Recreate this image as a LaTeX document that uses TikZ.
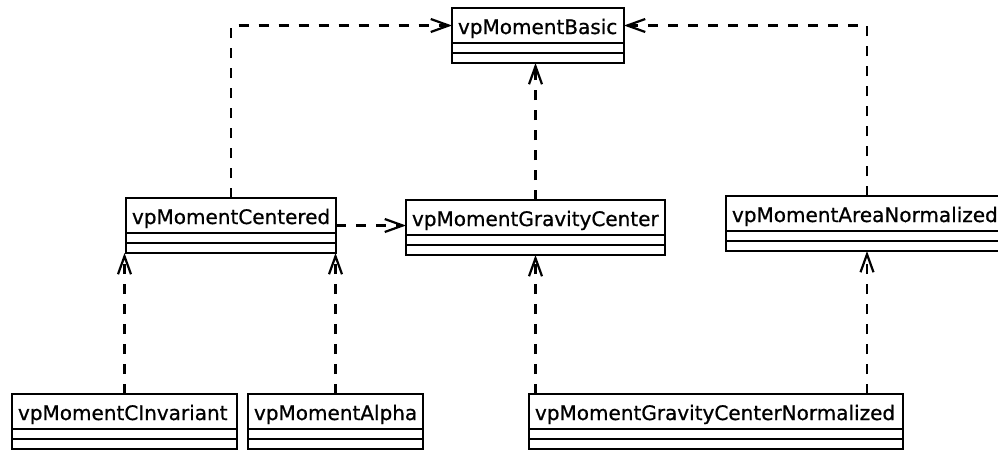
\documentclass[tikz,border=0pt]{standalone}
\usepackage{fontspec}
\newfontfamily\clsfont{DejaVu Sans}[FakeBold=0.8]
\usetikzlibrary{arrows.meta,calc}
\tikzset{
  clsname/.style={draw, line width=2.2pt, anchor=north west, outer sep=0pt, inner xsep=6pt, inner ysep=0pt,
    minimum height=35pt, text height=19pt, text depth=2pt, align=left,
    font=\clsfont\fontsize{20}{22}\selectfont},
  clscomp/.style={draw, line width=2.2pt, anchor=north, outer sep=0pt, inner sep=0pt, minimum height=10pt},
  dep/.style={line width=2.2pt, dash pattern=on 10pt off 10pt,
    -{Straight Barb[length=18pt, width=13pt, line width=2.2pt]}}
}
\newcommand{\umlclass}[5]{%
  \pgfmathsetmacro{\umltw}{#4-12}%
  \node[clsname, minimum width=#4pt, text width=\umltw pt] (#1) at (#2,#3) {#5};
  \node[clscomp, minimum width=#4pt] (#1-a) at (#1.south) {};
  \node[clscomp, minimum width=#4pt] (#1-o) at (#1-a.south) {};
}
\begin{document}
\begin{tikzpicture}[x=1pt, y=-1pt]
  \useasboundingbox (0,0) rectangle (998,451);
  \clip (0,0) rectangle (998,451);
  \umlclass{basic}{452}{8}{172}{vpMomentBasic}
  \umlclass{centered}{126}{198}{210}{vpMomentCentered}
  \umlclass{gc}{406}{200}{259}{vpMomentGravityCenter}
  \umlclass{area}{726}{196}{282}{vpMomentAreaNormalized}
  \umlclass{cinv}{12}{394}{225}{vpMomentCInvariant}
  \umlclass{alpha}{248}{394}{175}{vpMomentAlpha}
  \umlclass{gcn}{529}{394}{374}{vpMomentGravityCenterNormalized}

  \draw[dep] (centered.north) |- (basic.west);
  \draw[dep] (area.north) |- (basic.east);
  \draw[dep] (gc.north) -- (gc.north |- basic-o.south);
  \coordinate (c1) at ($(centered.north east)!.5!(centered-o.south east)$);
  \draw[dep] (c1) -- (c1 -| gc.west);
  \draw[dep] (cinv.north) -- (cinv.north |- centered-o.south);
  \draw[dep] (alpha.north) -- (alpha.north |- centered-o.south);
  \draw[dep] (gcn.north -| gc.north) -- (gc-o.south);
  \draw[dep] (gcn.north -| area.north) -- (area-o.south);
\end{tikzpicture}
\end{document}
